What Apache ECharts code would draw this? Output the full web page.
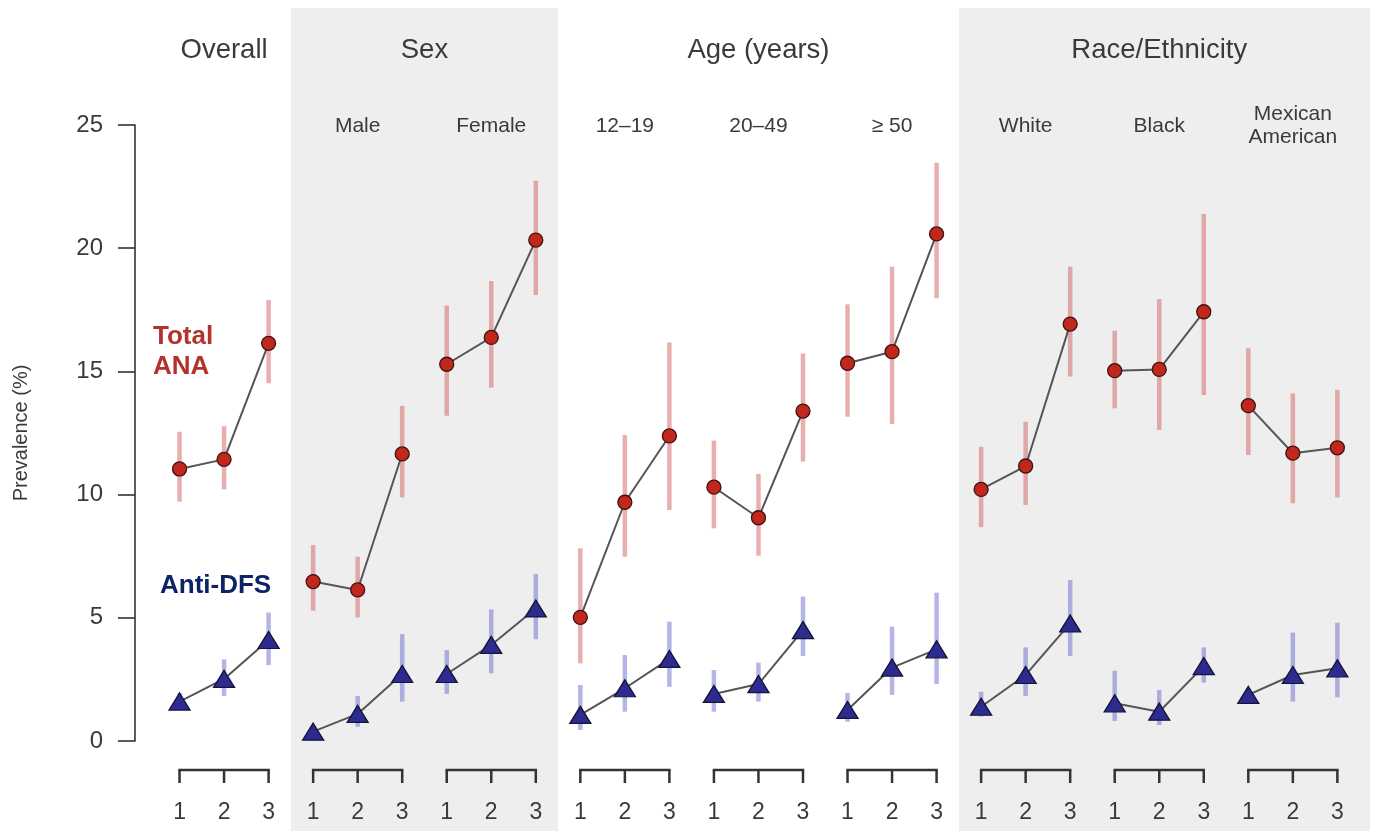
<!DOCTYPE html>
<html><head><meta charset="utf-8">
<script src="https://cdn.jsdelivr.net/npm/echarts@6/dist/echarts.min.js"></script>
<style>html,body{margin:0;padding:0;background:#fff;overflow:hidden}#c{width:1373px;height:831px}</style>
</head><body><div id="c"></div><script>
// ---- data ----
const groupTitles = ['Overall', 'Sex', 'Age (years)', 'Race/Ethnicity'];
const groupTitleSubgroups = [[0], [1, 2], [3, 4, 5], [6, 7, 8]]; // which subgroups each title covers
const shadedTitles = [1, 3];
const subgroups = ['', 'Male', 'Female', '12–19', '20–49', '≥ 50', 'White', 'Black', 'Mexican\nAmerican'];
const timepoints = ['1', '2', '3'];
const yTicks = [0, 5, 10, 15, 20, 25];

const anaMean = [11.04, 11.43, 16.14, 6.47, 6.13, 11.65, 15.29, 16.38, 20.33, 5.02, 9.69, 12.38, 10.30, 9.06, 13.39, 15.33, 15.80, 20.58, 10.21, 11.16, 16.92, 15.03, 15.08, 17.42, 13.61, 11.68, 11.90];
const anaLow  = [9.71, 10.21, 14.52, 5.29, 5.02, 9.89, 13.20, 14.34, 18.10, 3.15, 7.48, 9.38, 8.63, 7.52, 11.34, 13.16, 12.87, 17.97, 8.68, 9.58, 14.79, 13.50, 12.62, 14.04, 11.61, 9.65, 9.88];
const anaHigh = [12.55, 12.78, 17.90, 7.95, 7.48, 13.60, 17.67, 18.67, 22.74, 7.82, 12.42, 16.17, 12.19, 10.84, 15.73, 17.72, 19.25, 23.47, 11.94, 12.96, 19.25, 16.65, 17.94, 21.39, 15.94, 14.11, 14.25];

const dfsMean = [1.60, 2.52, 4.10, 0.38, 1.10, 2.72, 2.72, 3.90, 5.38, 1.06, 2.14, 3.33, 1.91, 2.31, 4.50, 1.26, 2.98, 3.72, 1.39, 2.68, 4.77, 1.53, 1.19, 3.04, 1.87, 2.68, 2.95];
const dfsLow  = [1.30, 1.83, 3.08, 0.20, 0.58, 1.60, 1.91, 2.75, 4.13, 0.45, 1.19, 2.20, 1.19, 1.60, 3.45, 0.78, 1.87, 2.31, 0.99, 1.83, 3.45, 0.81, 0.65, 2.37, 1.60, 1.60, 1.77];
const dfsHigh = [1.95, 3.31, 5.21, 0.60, 1.83, 4.34, 3.69, 5.34, 6.78, 2.27, 3.49, 4.84, 2.88, 3.18, 5.86, 1.95, 4.64, 6.02, 2.00, 3.80, 6.53, 2.85, 2.07, 3.80, 2.10, 4.40, 4.80];

// ---- helpers ----
const FONT = '"Liberation Sans", Arial, Helvetica, sans-serif';
const TXT = '#3a3a3a';
const X_MAX = 27.8;
const nT = timepoints.length;
const nG = subgroups.length;
const xOf = (g, p) => g * nT + p + 1;

const chart = echarts.init(document.getElementById('c'), null, {renderer: 'canvas'});
const series = [];

// shading (full-height grid)
series.push({
  type: 'custom', xAxisIndex: 1, yAxisIndex: 1, z: 0, silent: true, clip: false,
  data: shadedTitles.map(t => {
    const sg = groupTitleSubgroups[t];
    const last = sg[sg.length - 1];
    const a = xOf(sg[0], 0) - 0.5;
    const b = last === nG - 1 ? X_MAX - 0.065 : xOf(last, nT - 1) + 0.5;
    return [a, b];
  }),
  renderItem: (params, api) => {
    const p0 = api.coord([api.value(0), 1]);
    const p1 = api.coord([api.value(1), 0]);
    return {type: 'rect', shape: {x: p0[0], y: p0[1], width: p1[0] - p0[0], height: p1[1] - p0[1]}, style: {fill: '#eeeeee'}};
  }
});

// error bars
function errSeries(low, high, color) {
  return {
    type: 'custom', z: 2, silent: true, clip: false,
    encode: {x: 0, y: [1, 2]},
    data: low.map((l, i) => [i + 1, l, high[i]]),
    renderItem: (params, api) => {
      const a = api.coord([api.value(0), api.value(1)]);
      const b = api.coord([api.value(0), api.value(2)]);
      return {type: 'line', shape: {x1: a[0], y1: a[1], x2: b[0], y2: b[1]}, style: {stroke: color, lineWidth: 4.5}};
    }
  };
}
series.push(errSeries(anaLow, anaHigh, 'rgba(210,95,95,0.5)'));
series.push(errSeries(dfsLow, dfsHigh, 'rgba(100,100,205,0.48)'));

// lines + markers, one per subgroup
subgroups.forEach((s, g) => {
  series.push({
    type: 'line', z: 3, silent: true,
    data: timepoints.map((t, p) => [xOf(g, p), anaMean[g * nT + p]]),
    symbol: 'circle', symbolSize: 14,
    itemStyle: {color: '#c1271c', borderColor: '#3d1212', borderWidth: 1.3},
    lineStyle: {color: '#555555', width: 2}
  });
  series.push({
    type: 'line', z: 3, silent: true,
    data: timepoints.map((t, p) => [xOf(g, p), dfsMean[g * nT + p]]),
    symbol: 'triangle', symbolSize: [21, 17],
    itemStyle: {color: '#2e2b90', borderColor: '#141438', borderWidth: 1.3},
    lineStyle: {color: '#555555', width: 2}
  });
});

// group titles
series.push({
  type: 'custom', z: 4, silent: true, clip: false,
  data: groupTitles.map((t, i) => {
    const sg = groupTitleSubgroups[i];
    return [(xOf(sg[0], 0) + xOf(sg[sg.length - 1], nT - 1)) / 2, 25];
  }),
  renderItem: (params, api) => {
    const c = api.coord([api.value(0), api.value(1)]);
    return {type: 'text', style: {text: groupTitles[params.dataIndex], x: c[0], y: c[1] - 75, align: 'center', verticalAlign: 'middle', fontSize: 27.5, fontFamily: FONT, fill: TXT}};
  }
});

// subgroup labels
series.push({
  type: 'custom', z: 4, silent: true, clip: false,
  data: subgroups.map((s, g) => [xOf(g, 1), 25]),
  renderItem: (params, api) => {
    const c = api.coord([api.value(0), api.value(1)]);
    return {type: 'text', style: {text: subgroups[params.dataIndex], x: c[0], y: c[1] + 1, align: 'center', verticalAlign: 'middle', fontSize: 21, lineHeight: 23, fontFamily: FONT, fill: TXT}};
  }
});

// bottom brackets with 1/2/3 labels
series.push({
  type: 'custom', z: 4, silent: true, clip: false,
  data: subgroups.map((s, g) => [xOf(g, 0), xOf(g, nT - 1), 0]),
  renderItem: (params, api) => {
    const g = params.dataIndex;
    const a = api.coord([api.value(0), 0]);
    const b = api.coord([api.value(1), 0]);
    const yl = a[1] + 29, yt = a[1] + 42, ylab = a[1] + 72;
    const children = [{type: 'line', shape: {x1: a[0] - 1.2, y1: yl, x2: b[0] + 1.2, y2: yl}, style: {stroke: '#333', lineWidth: 2.5}}];
    timepoints.forEach((t, p) => {
      const c = api.coord([xOf(g, p), 0]);
      children.push({type: 'line', shape: {x1: c[0], y1: yl, x2: c[0], y2: yt}, style: {stroke: '#333', lineWidth: 2.5}});
      children.push({type: 'text', style: {text: t, x: c[0], y: ylab, align: 'center', verticalAlign: 'middle', fontSize: 23, fontFamily: FONT, fill: TXT}});
    });
    return {type: 'group', children};
  }
});

chart.setOption({
  animation: false,
  backgroundColor: '#ffffff',
  grid: [
    {left: 135, right: 0, top: 125, bottom: 90, containLabel: false},
    {left: 135, right: 0, top: 8, bottom: 0, containLabel: false}
  ],
  xAxis: [
    {type: 'value', gridIndex: 0, min: 0, max: X_MAX, show: false},
    {type: 'value', gridIndex: 1, min: 0, max: X_MAX, show: false}
  ],
  yAxis: [
    {type: 'value', gridIndex: 0, min: yTicks[0], max: yTicks[yTicks.length - 1], interval: 5,
     name: 'Prevalence (%)', nameLocation: 'middle', nameGap: 104, nameRotate: 90,
     nameTextStyle: {fontSize: 20, color: TXT, fontFamily: FONT},
     axisLine: {show: true, lineStyle: {color: '#333', width: 1.6}},
     axisTick: {show: true, length: 17, lineStyle: {color: '#333', width: 1.6}},
     axisLabel: {margin: 32, fontSize: 24, color: TXT, fontFamily: FONT},
     splitLine: {show: false}},
    {type: 'value', gridIndex: 1, min: 0, max: 1, show: false}
  ],
  graphic: [
    {type: 'text', left: 153, top: 322, z: 10, style: {text: 'Total\nANA', font: 'bold 26px ' + FONT, fill: '#b3322b', lineHeight: 30}},
    {type: 'text', left: 160, top: 573, z: 10, style: {text: 'Anti-DFS', font: 'bold 26px ' + FONT, fill: '#0c2467'}}
  ],
  series
});
</script></body></html>
